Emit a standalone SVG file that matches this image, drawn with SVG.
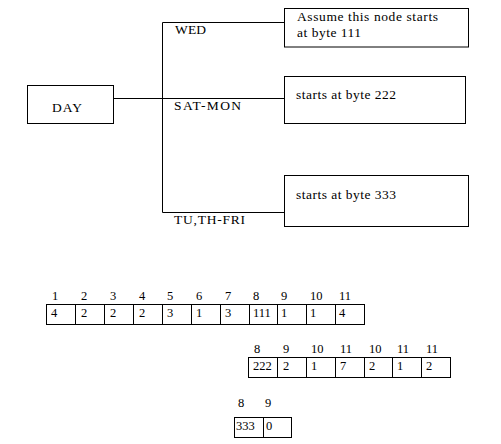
<svg xmlns="http://www.w3.org/2000/svg" width="501" height="444" viewBox="0 0 501 444">
<style>
.b{fill:#fff;stroke:#000;stroke-width:1}
.c{fill:none;stroke:#000;stroke-width:1}
.t{font-family:"Liberation Serif","Times New Roman",serif;font-size:13.5px;fill:#000}
.s{font-family:"Liberation Serif","Times New Roman",serif;font-size:12.5px;fill:#000}
</style>
<rect width="501" height="444" fill="#fff"/>
<g id="connectors">
<path class="c" d="M113.5 98.5H284.5M162.5 22.5V212.5M162.5 22.5H284.5M162.5 212.5H284.5"/>
</g>
<g id="day">
<rect class="b" x="27.5" y="85.5" width="86" height="38"/>
<text class="t" x="52" y="112" textLength="30" lengthAdjust="spacing">DAY</text>
</g>
<g id="label-wed"><text class="t" x="175" y="34" textLength="31" lengthAdjust="spacing">WED</text></g>
<g id="label-satmon"><text class="t" x="174" y="110" textLength="67" lengthAdjust="spacing">SAT-MON</text></g>
<g id="label-tuthfri"><text class="t" x="174" y="224" textLength="71" lengthAdjust="spacing">TU,TH-FRI</text></g>
<g id="node111">
<rect class="b" x="284.5" y="8.5" width="184" height="38.5"/>
<text class="t" x="297" y="21" textLength="141" lengthAdjust="spacing">Assume this node starts</text>
<text class="t" x="297" y="37" textLength="64" lengthAdjust="spacing">at byte 111</text>
</g>
<g id="node222">
<rect class="b" x="284.5" y="76.5" width="181" height="47"/>
<text class="t" x="296" y="99" textLength="100" lengthAdjust="spacing">starts at byte 222</text>
</g>
<g id="node333">
<rect class="b" x="284.5" y="175.5" width="184" height="51"/>
<text class="t" x="296" y="199" textLength="100" lengthAdjust="spacing">starts at byte 333</text>
</g>
<g id="table111">
<rect class="b" x="46.5" y="304.5" width="318" height="20"/>
<path class="c" d="M75.5 304.5V324.5M104.5 304.5V324.5M133.5 304.5V324.5M162.5 304.5V324.5M191.5 304.5V324.5M220.5 304.5V324.5M249.5 304.5V324.5M277.5 304.5V324.5M306.5 304.5V324.5M335.5 304.5V324.5"/>
<g class="s">
<text x="52" y="300">1</text><text x="81" y="300">2</text><text x="110" y="300">3</text><text x="139" y="300">4</text><text x="167" y="300">5</text><text x="196" y="300">6</text><text x="225" y="300">7</text><text x="253" y="300">8</text><text x="281" y="300">9</text><text x="310" y="300">10</text><text x="339" y="300">11</text>
<text x="51" y="317">4</text><text x="81" y="317">2</text><text x="110" y="317">2</text><text x="139" y="317">2</text><text x="167" y="317">3</text><text x="196" y="317">1</text><text x="225" y="317">3</text><text x="253" y="317">111</text><text x="281" y="317">1</text><text x="310" y="317">1</text><text x="339" y="317">4</text>
</g>
</g>
<g id="table222">
<rect class="b" x="248.5" y="357.5" width="202" height="20"/>
<path class="c" d="M277.5 357.5V377.5M306.5 357.5V377.5M335.5 357.5V377.5M364.5 357.5V377.5M392.5 357.5V377.5M421.5 357.5V377.5"/>
<g class="s">
<text x="254" y="353">8</text><text x="283" y="353">9</text><text x="311" y="353">10</text><text x="340" y="353">11</text><text x="369" y="353">10</text><text x="397" y="353">11</text><text x="426" y="353">11</text>
<text x="253" y="370">222</text><text x="283" y="370">2</text><text x="311" y="370">1</text><text x="340" y="370">7</text><text x="369" y="370">2</text><text x="397" y="370">1</text><text x="426" y="370">2</text>
</g>
</g>
<g id="table333">
<rect class="b" x="234.5" y="417.5" width="57" height="20"/>
<path class="c" d="M263.5 417.5V437.5"/>
<g class="s">
<text x="238" y="407">8</text><text x="265" y="407">9</text>
<text x="236" y="430">333</text><text x="266" y="430">0</text>
</g>
</g>
</svg>
